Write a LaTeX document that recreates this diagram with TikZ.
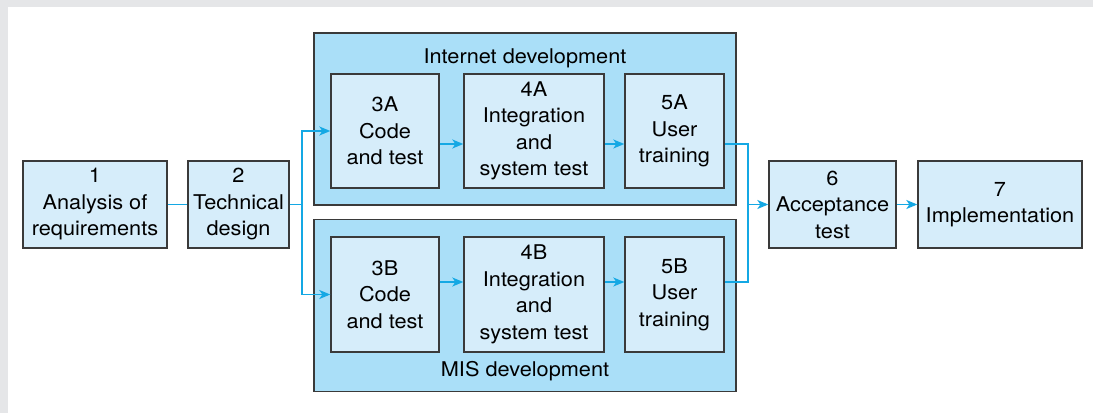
\documentclass[tikz,border=0pt]{standalone}
\usepackage{fontspec}
\setmainfont{TeX Gyre Heros}[FakeStretch=1.07]
\usetikzlibrary{arrows.meta}
\definecolor{bgGray}{RGB}{229,230,232}
\definecolor{boxFill}{RGB}{214,237,250}
\definecolor{groupFill}{RGB}{170,223,248}
\definecolor{edgeGray}{RGB}{58,58,58}
\definecolor{linkCyan}{RGB}{20,168,228}
\tikzset{
  stepbox/.style={draw=edgeGray, line width=1.4pt, fill=boxFill, align=center, inner sep=0pt,
    font=\fontsize{20.3}{26.5}\selectfont, execute at begin node={\rule{0pt}{23pt}}},
  groupbox/.style={draw=edgeGray, line width=1.4pt, fill=groupFill, inner sep=0pt},
  grouplabel/.style={font=\fontsize{20.3}{26.5}\selectfont, inner sep=0pt},
  link/.style={draw=linkCyan, line width=1.4pt},
  arrowlink/.style={link, -{Stealth[length=11pt,width=9pt,inset=3pt]}},
}
\begin{document}
\begin{tikzpicture}[x=1pt,y=-1pt]
\useasboundingbox (0,0) rectangle (1093,413);
\fill[bgGray] (0,0) rectangle (1093,413);
\fill[white] (8,7) rectangle (1093,413);

% group boxes
\node[groupbox, minimum width=422, minimum height=172] (gA) at (525,119) {};
\node[groupbox, minimum width=422, minimum height=172] (gB) at (525,305.5) {};
\node[grouplabel] (gAlabel) at (525,58) {Internet development};
\node[grouplabel] (gBlabel) at (525,371) {MIS development};

% steps
\node[stepbox, minimum width=144, minimum height=87] (n1) at (95,204.5) {1\\Analysis of\\requirements};
\node[stepbox, minimum width=101, minimum height=87] (n2) at (238.5,204.5) {2\\Technical\\design};
\node[stepbox, minimum width=108, minimum height=114] (a3) at (385,131) {3A\\Code\\and test};
\node[stepbox, minimum width=140, minimum height=114] (a4) at (534,131) {4A\\Integration\\and\\system test};
\node[stepbox, minimum width=99, minimum height=114] (a5) at (674.5,131) {5A\\User\\training};
\node[stepbox, minimum width=108, minimum height=115] (b3) at (385,294.5) {3B\\Code\\and test};
\node[stepbox, minimum width=140, minimum height=115] (b4) at (534,294.5) {4B\\Integration\\and\\system test};
\node[stepbox, minimum width=99, minimum height=115] (b5) at (674.5,294.5) {5B\\User\\training};
\node[stepbox, minimum width=127, minimum height=87] (n6) at (832.5,204.5) {6\\Acceptance\\test};
\node[stepbox, minimum width=164, minimum height=87] (n7) at (1000,204.5) {7\\Implementation};

% helper coordinates
\coordinate (split) at (302,204.5);
\coordinate (join) at (748,204.5);
\coordinate (rowA) at (0,144);
\coordinate (rowB) at (0,282);

% connectors
\draw[link] (n1) -- (n2);
\draw[link] (n2) -- (split);
\draw[arrowlink] (split) |- (a3);
\draw[arrowlink] (split) |- (b3);
\draw[arrowlink] (a3.east |- rowA) -- (a4.west |- rowA);
\draw[arrowlink] (a4.east |- rowA) -- (a5.west |- rowA);
\draw[arrowlink] (b3.east |- rowB) -- (b4.west |- rowB);
\draw[arrowlink] (b4.east |- rowB) -- (b5.west |- rowB);
\draw[link] (a5.east |- rowA) -| (join);
\draw[link] (b5.east |- rowB) -| (join);
\draw[arrowlink] (join) -- (n6);
\draw[arrowlink] (n6) -- (n7);
\end{tikzpicture}
\end{document}
